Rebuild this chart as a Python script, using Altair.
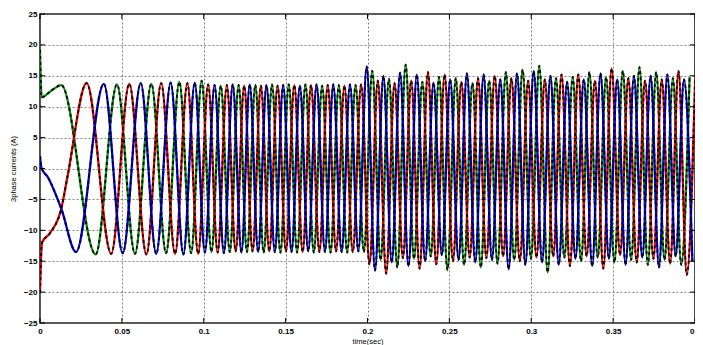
import altair as alt
import pandas as pd

# ---- axis ticks -------------------------------------------------------
X_TICKS = [0, 0.05, 0.1, 0.15, 0.2, 0.25, 0.3, 0.35, 0.4]
Y_TICKS = [-25, -20, -15, -10, -5, 0, 5, 10, 15, 20, 25]

# ---- start-up transient of each phase (time in ms, current in A) ------
START_G_MS = [0, 1, 5, 9]
START_G_A = [19.2, 11.5, 12.2, 13.0]
START_B_MS = [0, 0.8, 5, 13]
START_B_A = [2.0, 0.2, -1.5, -6.5]
START_R_MS = [0, 1.2, 6, 13, 17]
START_R_A = [-20.0, -12.0, -10.5, -6.5, -1.0]

# ---- successive extrema (peaks / troughs), phases taking turns G, B, R -
PHASE_ORDER = ["G", "B", "R"]
EVENT_MS = [
    13, 22, 28.5, 34, 39, 43.5, 47, 50.5, 54.5, 58, 61.5, 65, 68, 71, 74, 77,
    79.8, 82.5, 85.1, 87.6, 90, 92.3, 94.5, 96.6, 98.7, 100.7, 102.7, 104.7,
    106.6, 108.5, 110.4, 112.3, 114.1, 115.9, 117.7, 119.5, 121.3, 123, 124.7,
    126.4, 128.1, 129.8, 131.5, 133.2, 134.9, 136.6, 138.3, 140,
    141.7, 143.4, 145.1, 146.8, 148.5, 150.2, 151.9, 153.6, 155.3, 157.0,
    158.7, 160.4, 162.1, 163.8, 165.5, 167.2, 168.9, 170.6, 172.3, 174.0,
    175.7, 177.4, 179.1, 180.8, 182.5, 184.2, 185.9, 187.6, 189.3, 191.0,
    192.7, 194.4, 196.1, 197.8, 199.5,
    201.2, 202.9, 204.6, 206.3, 208.0, 209.7, 211.4, 213.1, 214.8, 216.5,
    218.2, 219.9, 221.6, 223.3, 225.0, 226.7, 228.4, 230.1, 231.8, 233.5,
    235.2, 236.9, 238.6, 240.3, 242.0, 243.7, 245.4, 247.1, 248.8, 250.5,
    252.2, 253.9, 255.6, 257.3, 259.0, 260.7, 262.4, 264.1, 265.8, 267.5,
    269.2, 270.9, 272.6, 274.3, 276.0, 277.7, 279.4, 281.1, 282.8, 284.5,
    286.2, 287.9, 289.6, 291.3, 293.0, 294.7, 296.4, 298.1, 299.8, 301.5,
    303.2, 304.9, 306.6, 308.3, 310.0, 311.7, 313.4, 315.1, 316.8, 318.5,
    320.2, 321.9, 323.6, 325.3, 327.0, 328.7, 330.4, 332.1, 333.8, 335.5,
    337.2, 338.9, 340.6, 342.3, 344.0, 345.7, 347.4, 349.1, 350.8, 352.5,
    354.2, 355.9, 357.6, 359.3, 361.0, 362.7, 364.4, 366.1, 367.8, 369.5,
    371.2, 372.9, 374.6, 376.3, 378.0, 379.7, 381.4, 383.1, 384.8, 386.5,
    388.2, 389.9, 391.6, 393.3, 395.0, 396.7, 398.4, 400.1,
]
EVENT_A = [
    13.5, -13.5, 13.8, -13.9, 13.7, -13.8, 13.6, -13.7, 13.7, -13.8, 13.8, -13.9,
    13.7, -13.8, 13.8, -13.7, 13.9, -13.8, 14.0, -13.9, 13.8, -13.7, 13.9, -13.8,
    14.2, -13.6, 13.6, -13.5, 13.5, -13.6, 13.4, -13.7, 13.5, -13.5, 13.6, -13.4,
    13.5, -13.6, 13.4, -13.5, 13.6, -13.4, 13.5, -13.5, 13.4, -13.6, 13.5, -13.4,
    13.6, -13.5, 13.4, -13.6, 13.5, -13.4, 13.6, -13.5, 13.5, -13.6, 13.4, -13.5,
    13.6, -13.4, 13.5, -13.6, 13.6, -13.5, 13.4, -13.5, 13.5, -13.6, 13.6, -13.4,
    13.5, -13.5, 13.4, -13.6, 13.6, -13.5, 13.5, -13.4, 13.6, -13.5, 16.5,
    -15.5, 15.8, -16.5, 14.2, -14.8, 15.0, -17.0, 14.5, -15.2, 13.8,
    -16.0, 15.5, -14.5, 16.8, -15.8, 14.2, -14.6, 15.2, -16.2, 14.0,
    -15.0, 15.6, -14.2, 13.9, -15.5, 14.8, -14.0, 15.2, -16.4, 14.4,
    -15.0, 14.6, -14.8, 14.0, -15.6, 15.4, -14.4, 13.8, -15.2, 14.6,
    -16.0, 15.2, -14.5, 14.2, -14.8, 15.0, -15.4, 14.4, -14.2, 15.6,
    -16.3, 14.6, -14.8, 15.4, -15.0, 16.0, -15.6, 14.2, -14.6, 15.8,
    -14.4, 16.6, -15.2, 14.4, -16.8, 15.0, -14.2, 14.6, -15.6, 15.2,
    -14.4, 14.0, -15.8, 14.8, -14.6, 15.2, -15.0, 14.4, -14.2, 15.6,
    -15.8, 14.2, -14.4, 15.4, -16.2, 14.8, -14.6, 16.2, -15.2, 14.4,
    -14.0, 15.8, -15.6, 14.6, -14.8, 15.0, -15.2, 16.4, -14.4, 14.2,
    -15.6, 15.0, -14.6, 15.6, -16.0, 14.4, -14.8, 15.2, -15.4, 14.6,
    -14.2, 15.8, -15.6, 14.4, -17.2, 14.8, -15.0, 14.6,
]

COLORS = {"G": "#0a8a0a", "R": "#e00000", "B": "#0000e8"}

rows = []
for ph, ts, vs in (("G", START_G_MS, START_G_A),
                   ("B", START_B_MS, START_B_A),
                   ("R", START_R_MS, START_R_A)):
    for t, v in zip(ts, vs):
        rows.append({"phase": ph, "t": t / 1000.0, "i": v})
for k, (t, v) in enumerate(zip(EVENT_MS, EVENT_A)):
    rows.append({"phase": PHASE_ORDER[k % 3], "t": t / 1000.0, "i": v})
df = pd.DataFrame(rows)

W, H = 655, 309
xs = alt.Scale(domain=[0, 0.4], nice=False, zero=False)
ys = alt.Scale(domain=[-25, 25], nice=False, zero=False)

x_axis = alt.Axis(values=X_TICKS, format="~g", title="time(sec)", grid=True,
                  labelOverlap=False)
y_axis = alt.Axis(values=Y_TICKS, format="d", title="3phase currents (A)",
                  grid=True, labelOverlap=False)


def xenc(field):
    return alt.X(f"{field}:Q", scale=xs, axis=x_axis)


def yenc(field):
    return alt.Y(f"{field}:Q", scale=ys, axis=y_axis)


base = alt.Chart(df)
layers = []
for ph in ["G", "R", "B"]:
    sub = base.transform_filter(alt.datum.phase == ph)
    layers.append(sub.mark_line(color=COLORS[ph], strokeWidth=2.3,
                                interpolate="monotone", clip=True)
                  .encode(x=xenc("t"), y=yenc("i")))
    layers.append(sub.mark_line(color="#000000", strokeWidth=1.9,
                                strokeDash=[3, 3], opacity=0.9,
                                interpolate="monotone", clip=True)
                  .encode(x=xenc("t"), y=yenc("i")))

tx = pd.DataFrame({"t": X_TICKS})
ty = pd.DataFrame({"i": Y_TICKS})
tick_bot = alt.Chart(tx).mark_rule(color="#000", strokeWidth=1).encode(
    x=xenc("t"), y=alt.value(H), y2=alt.value(H - 5))
tick_top = alt.Chart(tx).mark_rule(color="#000", strokeWidth=1).encode(
    x=xenc("t"), y=alt.value(0), y2=alt.value(5))
tick_left = alt.Chart(ty).mark_rule(color="#000", strokeWidth=1).encode(
    y=yenc("i"), x=alt.value(0), x2=alt.value(5))
tick_right = alt.Chart(ty).mark_rule(color="#000", strokeWidth=1).encode(
    y=yenc("i"), x=alt.value(W), x2=alt.value(W - 5))

chart = alt.layer(*layers, tick_bot, tick_top, tick_left, tick_right).properties(
    width=W, height=H,
    autosize=alt.AutoSizeParams(type="none"),
    padding={"left": 32, "top": 6, "right": 0, "bottom": 22},
    background="white",
).configure_view(
    stroke="#222", strokeWidth=1.6
).configure_axis(
    labelFont="Liberation Sans", labelFontSize=8, labelFontWeight="bold",
    labelColor="#000", titleFont="Liberation Sans", titleFontSize=7.5,
    titleFontWeight="normal", titleColor="#000",
    domain=False, ticks=False, labelPadding=4,
    gridColor="#666", gridDash=[2, 2], gridWidth=0.8, gridOpacity=1,
).configure_axisY(
    titlePadding=6, labelPadding=3
).configure_axisX(
    titlePadding=2, labelFlush=False
)

chart.save("out.html", embed_options={"renderer": "svg", "actions": False})
